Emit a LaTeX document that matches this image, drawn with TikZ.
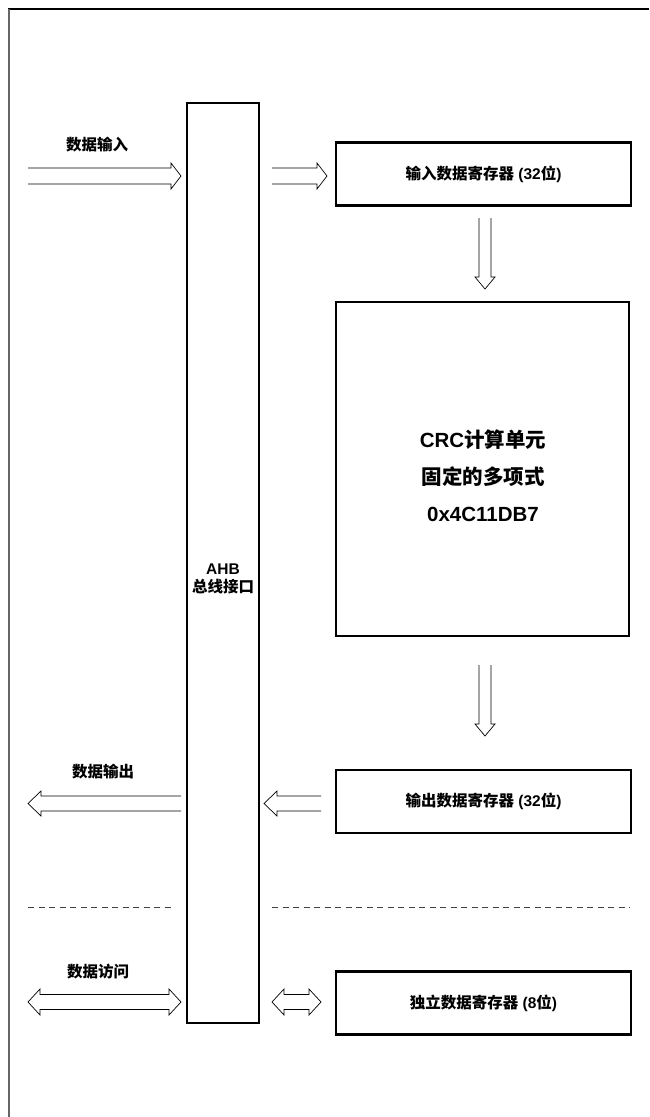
\documentclass[tikz,border=0pt]{standalone}
\usepackage{fontspec}
\setmainfont{Liberation Sans}
\newfontfamily\cjk{Noto Sans CJK SC}
\newcommand\zh[1]{{\cjk #1}}
\newcommand\blkR[6]{\draw[blockarrow] (#1,{#3-#4}) -- ({#2-#6},{#3-#4}) -- ({#2-#6},{#3-#5}) -- (#2,#3) -- ({#2-#6},{#3+#5}) -- ({#2-#6},{#3+#4}) -- (#1,{#3+#4});}
\newcommand\blkL[6]{\draw[blockarrow] (#2,{#3-#4}) -- ({#1+#6},{#3-#4}) -- ({#1+#6},{#3-#5}) -- (#1,#3) -- ({#1+#6},{#3+#5}) -- ({#1+#6},{#3+#4}) -- (#2,{#3+#4});}
\newcommand\blkD[6]{\draw[blockarrow] ({#3-#4},#1) -- ({#3-#4},{#2-#6}) -- ({#3-#5},{#2-#6}) -- (#3,#2) -- ({#3+#5},{#2-#6}) -- ({#3+#4},{#2-#6}) -- ({#3+#4},#1);}
\newcommand\blkLR[6]{\draw[blockarrow] ({#1+#6},{#3-#4}) -- ({#2-#6},{#3-#4}) -- ({#2-#6},{#3-#5}) -- (#2,#3) -- ({#2-#6},{#3+#5}) -- ({#2-#6},{#3+#4}) -- ({#1+#6},{#3+#4}) -- ({#1+#6},{#3+#5}) -- (#1,#3) -- ({#1+#6},{#3-#5}) -- cycle;}
\tikzset{
  regbox/.style={draw=black, line width=2.1pt, minimum width=295pt, minimum height=63pt, inner sep=0pt, font=\fontsize{15.5}{18}\selectfont\bfseries},
  lbl/.style={font=\fontsize{15.5}{18}\selectfont\bfseries, inner sep=0pt},
  blockarrow/.style={draw=black, line width=0.7pt, line join=miter},
  sepline/.style={draw=black!75, line width=0.8pt, dash pattern=on 6pt off 4.5pt}
}
\begin{document}
\begin{tikzpicture}[x=1pt,y=-1pt]
\useasboundingbox (0,0) rectangle (649,1117);
% frame
\draw[black, line width=1.6pt] (8,9) -- (649,9);
\draw[black!60, line width=1.8pt] (9,9) -- (9,1117);
% AHB bar
\node[draw=black, line width=1.6pt, minimum width=72pt, minimum height=920pt, inner sep=0pt] (bar) at (223,563) {};
\node[lbl, align=center] (ahb) at (223,579) {AHB\\\zh{总线接口}};
% registers
\node[regbox] (inreg) at (483.5,174) {\zh{输入数据寄存器} (32\zh{位})};
\node[draw=black, line width=2.1pt, minimum width=293pt, minimum height=334pt, inner sep=0pt] (crc) at (482.5,469) {};
\node[align=center, inner sep=0pt, font=\fontsize{20.5}{37}\selectfont\bfseries] (crctext) at (483,476) {CRC\zh{计算单元}\\\zh{固定的多项式}\\0x4C11DB7};
\node[regbox] (outreg) at (483.5,801.5) {\zh{输出数据寄存器} (32\zh{位})};
\node[regbox] (idreg) at (483.5,1003) {\zh{独立数据寄存器} (8\zh{位})};
% labels
\node[lbl] (lin) at (97,145) {\zh{数据输入}};
\node[lbl] (lout) at (103,772) {\zh{数据输出}};
\node[lbl] (lacc) at (98,972) {\zh{数据访问}};
% arrows
\blkR{28}{181}{176}{8}{13}{10}
\blkR{272}{327}{176}{8}{13}{10}
\blkD{218}{289}{485}{6}{10}{12}
\blkD{665}{736}{485}{6}{10}{12}
\blkL{28}{181}{803.5}{7.5}{12.5}{13}
\blkL{264}{321}{803.5}{7.5}{12.5}{13}
\blkLR{28}{181}{1002}{7.5}{13}{12}
\blkLR{272}{321}{1002}{7.5}{13}{12}
% separators
\coordinate (s1a) at (28,907); \coordinate (s1b) at (175,907);
\coordinate (s2a) at (272,907); \coordinate (s2b) at (630,907);
\draw[sepline] (s1a) -- (s1b);
\draw[sepline] (s2a) -- (s2b);
\end{tikzpicture}
\end{document}
